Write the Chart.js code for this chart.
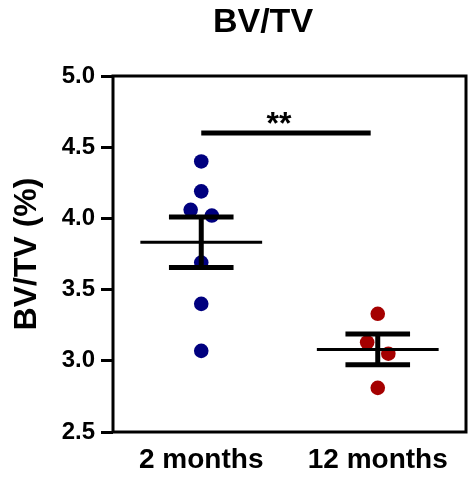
<!DOCTYPE html>
<html>
<head>
<meta charset="utf-8">
<script src="https://cdn.jsdelivr.net/npm/chart.js@4.4.1/dist/chart.umd.min.js"></script>
<style>
    html, body { margin: 0; padding: 0; background: #fff; }
    #wrap { width: 469px; height: 481px; position: relative; }
</style>
</head>
<body>
<div id="wrap"><canvas id="bvtvChart"></canvas></div>
<script>
// Data
const groups = ['2 months', '12 months'];
const twoMonths = [4.40, 4.19, 4.06, 4.02, 3.69, 3.40, 3.07];
const twoMonthsJitter = [0, 0, -0.06, 0.06, 0, 0, 0];
const twelveMonths = [3.33, 3.13, 3.05, 2.81];
const twelveMonthsJitter = [0, -0.06, 0.06, 0];
const yTicks = [2.5, 3.0, 3.5, 4.0, 4.5, 5.0];
const significance = { from: 0, to: 1, y: 4.6, label: '**' };

const FONT = "'Liberation Sans', Arial, sans-serif";

function toPoints(values, jitter, groupIndex) {
    return values.map((v, i) => ({ x: groupIndex + 0.5 + jitter[i], y: v }));
}

function meanSem(values) {
    const n = values.length;
    const mean = values.reduce((a, b) => a + b, 0) / n;
    const sd = Math.sqrt(values.reduce((a, b) => a + (b - mean) ** 2, 0) / (n - 1));
    return { mean: mean, sem: sd / Math.sqrt(n) };
}

// Mean +/- SEM bars, frame and the significance bar
const overlayPlugin = {
    id: 'overlay',
    afterDatasetsDraw(chart) {
        const { ctx, chartArea, scales: { x, y } } = chart;
        ctx.save();
        ctx.strokeStyle = '#000';
        ctx.lineCap = 'butt';

        function seg(x1, y1, x2, y2, w) {
            ctx.lineWidth = w;
            ctx.beginPath();
            ctx.moveTo(x1, y1);
            ctx.lineTo(x2, y2);
            ctx.stroke();
        }

        chart.data.datasets.forEach((ds, i) => {
            const s = meanSem(ds.data.map(p => p.y));
            const cx = i + 0.5;
            const px = x.getPixelForValue(cx);
            const yMean = y.getPixelForValue(s.mean);
            const yHi = y.getPixelForValue(s.mean + s.sem);
            const yLo = y.getPixelForValue(s.mean - s.sem);
            seg(x.getPixelForValue(cx - 0.345), yMean, x.getPixelForValue(cx + 0.345), yMean, 3);
            seg(px, yHi, px, yLo, 5);
            seg(x.getPixelForValue(cx - 0.183), yHi, x.getPixelForValue(cx + 0.183), yHi, 5);
            seg(x.getPixelForValue(cx - 0.183), yLo, x.getPixelForValue(cx + 0.183), yLo, 5);
        });

        // frame round the plot
        ctx.lineWidth = 3;
        ctx.strokeRect(chartArea.left, chartArea.top, chartArea.right - chartArea.left, chartArea.bottom - chartArea.top);

        // significance bar
        const sy = y.getPixelForValue(significance.y);
        const sx1 = x.getPixelForValue(significance.from + 0.5);
        const sx2 = x.getPixelForValue(significance.to + 0.46);
        seg(sx1, sy, sx2, sy, 5);
        ctx.fillStyle = '#000';
        ctx.font = 'bold 32px ' + FONT;
        ctx.textAlign = 'center';
        ctx.textBaseline = 'alphabetic';
        ctx.fillText(significance.label, (sx1 + sx2) / 2 - 7, sy + 1);
        ctx.restore();
    }
};

new Chart(document.getElementById('bvtvChart').getContext('2d'), {
    type: 'scatter',
    data: {
        datasets: [{
            label: groups[0],
            data: toPoints(twoMonths, twoMonthsJitter, 0),
            backgroundColor: '#00007F',
            borderWidth: 0,
            pointRadius: 7.3,
            pointHoverRadius: 7.3
        }, {
            label: groups[1],
            data: toPoints(twelveMonths, twelveMonthsJitter, 1),
            backgroundColor: '#A50000',
            borderWidth: 0,
            pointRadius: 7.3,
            pointHoverRadius: 7.3
        }]
    },
    options: {
        responsive: true,
        maintainAspectRatio: false,
        animation: false,
        layout: {
            autoPadding: false,
            padding: { top: 0, left: 60, right: 3, bottom: 0 }
        },
        plugins: {
            legend: { display: false },
            tooltip: { enabled: false },
            title: {
                display: true,
                text: 'BV/TV',
                color: '#000',
                font: { family: FONT, size: 34, weight: 'bold' },
                padding: { top: 2.5, bottom: 32.7 }
            }
        },
        scales: {
            x: {
                type: 'linear',
                position: 'bottom',
                min: 0,
                max: 2,
                afterBuildTicks: axis => {
                    axis.ticks = groups.map((g, i) => ({ value: i + 0.5 }));
                },
                afterFit: axis => {
                    axis.height = 49;
                    axis.paddingLeft = 0;
                    axis.paddingRight = 0;
                },
                grid: { display: false, drawTicks: false, lineWidth: 3 },
                border: { display: false },
                ticks: {
                    color: '#000',
                    font: { family: FONT, size: 28, weight: 'bold' },
                    padding: 11.5,
                    maxRotation: 0,
                    minRotation: 0,
                    autoSkip: false,
                    callback: (value, index) => groups[index]
                }
            },
            y: {
                min: 2.5,
                max: 5.0,
                afterBuildTicks: axis => {
                    axis.ticks = yTicks.map(v => ({ value: v }));
                },
                afterFit: axis => { axis.width = 53; },
                grid: {
                    drawOnChartArea: false,
                    drawTicks: true,
                    tickLength: 12,
                    lineWidth: 3,
                    color: '#000'
                },
                border: { display: false },
                ticks: {
                    color: '#000',
                    font: { family: FONT, size: 24, weight: 'bold' },
                    padding: 6,
                    callback: v => v.toFixed(1)
                },
                title: {
                    display: true,
                    text: 'BV/TV (%)',
                    color: '#000',
                    font: { family: FONT, size: 32, weight: 'bold' },
                    padding: { top: -52, bottom: 0 }
                }
            }
        }
    },
    plugins: [overlayPlugin]
});
</script>
</body>
</html>
